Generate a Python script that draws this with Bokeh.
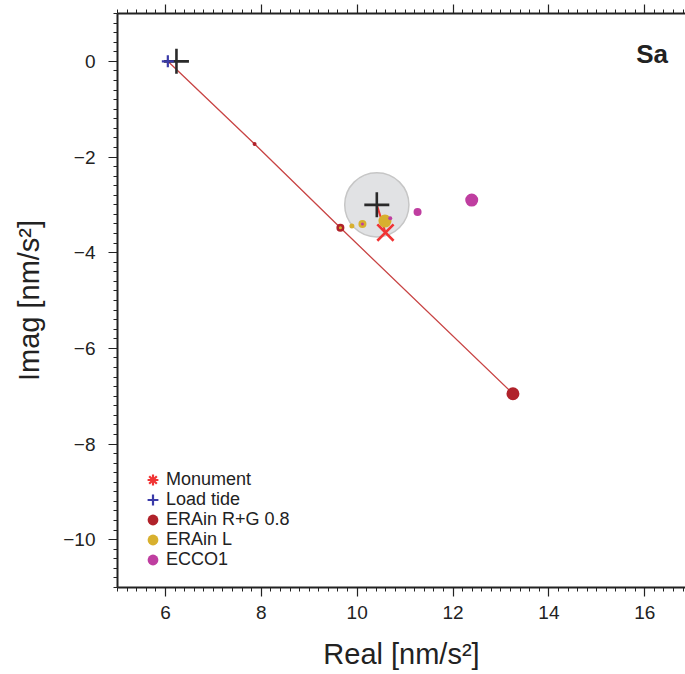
import math
from bokeh.plotting import figure
from bokeh.models import (Range1d, LinearAxis, SingleIntervalTicker, CustomJSTickFormatter,
                          Legend, LegendItem, Label)
from bokeh.embed import file_html
from bokeh.resources import INLINE

# ---------------- data ----------------
load_x = [6.05]
load_y = [0.0]

obs_x = [6.23, 10.41]          # black crosses
obs_y = [0.0, -3.00]
unc_radius = [0.67]            # grey uncertainty circle around second cross
unc_x = [10.41]
unc_y = [-3.00]

monument_x = [10.59]
monument_y = [-3.58]

erag_x = [7.86, 9.65, 13.25]   # ERAin R+G 0.8
erag_y = [-1.73, -3.48, -6.95]

eral_x = [9.89, 10.11, 10.58, 9.65]   # ERAin L
eral_y = [-3.44, -3.40, -3.34, -3.48]

ecco_x = [10.69, 11.26, 12.39, 10.11]  # ECCO1
ecco_y = [-3.28, -3.15, -2.90, -3.40]

legend_labels = ["Monument", "Load tide", "ERAin R+G 0.8", "ERAin L", "ECCO1"]
panel_label = "Sa"
x_label = "Real [nm/s\u00b2]"
y_label = "Imag [nm/s\u00b2]"
tick_interval = 2

# ---------------- styling ----------------
FONT = "Liberation Sans"
TXT = "#222222"
C_RED_DOT = "#b0222a"
C_YEL = "#d8b02e"
C_MAG = "#bf3ea0"
C_MON = "#f03434"
C_BLUE = "#3a3aa8"
C_LINE = "#c84444"

erag_sizes = [4, 8, 13]
eral_sizes = [5, 8, 13, 3]
ecco_sizes = [4, 8, 13, 3]

p = figure(width=685, height=672, x_range=Range1d(5, 16.85), y_range=Range1d(-11, 1),
           output_backend="svg", toolbar_location=None,
           x_axis_location=None, y_axis_location=None,
           min_border_left=117, min_border_right=0, min_border_top=13, min_border_bottom=84)
p.outline_line_color = None
for g in p.grid:
    g.visible = False
p.background_fill_color = "white"
p.border_fill_color = "white"

fmt_code = "return tick.toString().replace('-', '\u2212');"


def mk_axis(label=None, show_labels=True, tick_standoff=9, label_standoff=10):
    if show_labels:
        fmt = CustomJSTickFormatter(code=fmt_code)
    else:
        fmt = CustomJSTickFormatter(code="return '';")
    ax = LinearAxis(ticker=SingleIntervalTicker(interval=tick_interval, num_minor_ticks=10),
                    formatter=fmt)
    ax.axis_line_width = 2
    ax.axis_line_color = TXT
    ax.major_tick_out = 9
    ax.major_tick_in = 0
    ax.minor_tick_out = 4
    ax.minor_tick_in = 0
    ax.major_tick_line_color = TXT
    ax.minor_tick_line_color = TXT
    ax.major_tick_line_width = 1.2
    ax.minor_tick_line_width = 1
    ax.major_label_text_font = FONT
    ax.major_label_text_color = TXT
    if show_labels:
        ax.major_label_text_font_size = "19px"
        ax.major_label_standoff = tick_standoff
    else:
        ax.major_label_text_font_size = "1px"
        ax.major_label_standoff = 0
    if label:
        ax.axis_label = label
        ax.axis_label_text_font = FONT
        ax.axis_label_text_font_size = "29px"
        ax.axis_label_text_font_style = "normal"
        ax.axis_label_text_color = TXT
        ax.axis_label_standoff = label_standoff
    return ax


p.add_layout(mk_axis(y_label, tick_standoff=13, label_standoff=15), "left")
p.add_layout(mk_axis(x_label, tick_standoff=9, label_standoff=16), "below")
p.add_layout(mk_axis(None, show_labels=False), "above")

# uncertainty circle
p.circle(unc_x, unc_y, radius=unc_radius[0], fill_color="#e1e2e4", line_color="#c6c6c6",
         line_width=1.5)

# red line: load tide -> ERAin R+G points
p.line(load_x + erag_x, load_y + erag_y, line_color=C_LINE, line_width=1.3)
# short red line from observation to monument
p.line([obs_x[1], monument_x[0]], [obs_y[1], monument_y[0]], line_color=C_MON, line_width=2)

p.scatter(erag_x, erag_y, size=erag_sizes, marker="circle", fill_color=C_RED_DOT, line_color=None)
p.scatter(eral_x, eral_y, size=eral_sizes, marker="circle", fill_color=C_YEL, line_color=None)
p.scatter(ecco_x, ecco_y, size=ecco_sizes, marker="circle", fill_color=C_MAG, line_color=None)

p.scatter(monument_x, monument_y, marker="x", size=23, line_color=C_MON, line_width=2.6)
p.scatter(obs_x, obs_y, marker="cross", size=25, line_color="#2a2a2a", line_width=2.6)
p.scatter(load_x, load_y, marker="cross", size=12, line_color=C_BLUE, line_width=2.2)

# legend-only renderers (no data drawn)
nan = [math.nan]
r_mon = p.scatter(nan, nan, marker="asterisk", line_color=C_MON, line_width=2.2)
r_load = p.scatter(nan, nan, marker="cross", line_color=C_BLUE, line_width=2.2)
r_erg = p.scatter(nan, nan, marker="circle", fill_color=C_RED_DOT, line_color=None)
r_erl = p.scatter(nan, nan, marker="circle", fill_color=C_YEL, line_color=None)
r_ecc = p.scatter(nan, nan, marker="circle", fill_color=C_MAG, line_color=None)

GLYPH = 27
row_offsets = [94, 74, 54, 34, 14]
for lab, r, off in zip(legend_labels, [r_mon, r_load, r_erg, r_erl, r_ecc], row_offsets):
    lg = Legend(items=[LegendItem(label=lab, renderers=[r])], location=(22, off))
    lg.border_line_color = None
    lg.background_fill_alpha = 0
    lg.padding = 0
    lg.margin = 0
    lg.spacing = 0
    lg.glyph_width = GLYPH
    lg.glyph_height = GLYPH
    lg.label_height = GLYPH
    lg.label_standoff = 0
    lg.label_text_font = FONT
    lg.label_text_font_size = "18px"
    lg.label_text_color = TXT
    p.add_layout(lg)

p.add_layout(Label(x=15.82, y=0.15, text=panel_label, text_font=FONT, text_font_style="bold",
                   text_font_size="26px", text_baseline="middle", text_color=TXT))

open("out.html", "w").write(file_html(p, INLINE))
